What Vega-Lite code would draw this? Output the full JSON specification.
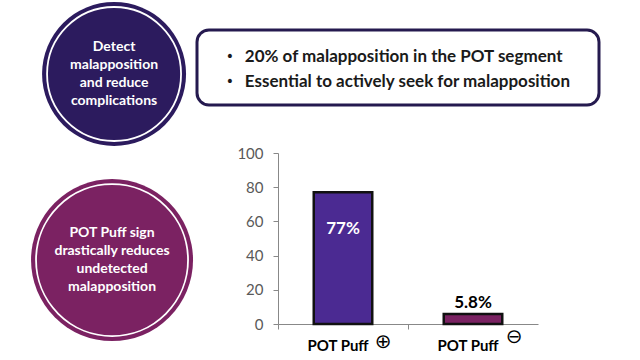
{
  "$schema": "https://vega.github.io/schema/vega-lite/v6.json",
  "background": "white",
  "padding": 0,
  "config": {"view": {"stroke": null}},
  "spacing": 0,
  "vconcat": [
    {
      "hconcat": [
        {
          "width": 197,
          "height": 135,
          "data": {"values": [{"text": "Detect\nmalapposition\nand reduce\ncomplications"}]},
          "encoding": {
            "x": {"datum": "c", "type": "nominal", "scale": {"type": "point", "padding": 0, "align": 0.579}, "axis": null},
            "y": {"datum": "c", "type": "nominal", "scale": {"type": "point", "padding": 0, "align": 0.548}, "axis": null}
          },
          "layer": [
            {"mark": {"type": "point", "shape": "circle", "filled": true, "size": 20736, "color": "#2c1b5e", "opacity": 1, "clip": false}},
            {"mark": {"type": "point", "shape": "circle", "filled": false, "size": 17956, "stroke": "white", "strokeWidth": 1.8, "opacity": 1, "clip": false}},
            {"mark": {"type": "text", "lineBreak": "\n", "lineHeight": 18, "font": "Lato", "fontWeight": "bold", "fontSize": 14, "color": "white", "align": "center", "baseline": "middle", "dy": -27, "clip": false}, "encoding": {"text": {"field": "text"}}}
          ]
        },
        {
          "width": 402,
          "height": 75,
          "view": {"fill": "white", "stroke": "#251a4f", "strokeWidth": 3, "cornerRadius": 12},
          "data": {"values": [
            {"line": 1, "text": "20% of malapposition in the POT segment"},
            {"line": 2, "text": "Essential to actively seek for malapposition"}
          ]},
          "encoding": {
            "x": {"datum": "start", "type": "nominal", "scale": {"type": "point", "padding": 0, "align": 0.119}, "axis": null},
            "y": {"field": "line", "type": "ordinal", "scale": {"type": "point", "padding": 1, "align": 0.54}, "axis": null}
          },
          "layer": [
            {"mark": {"type": "text", "text": "•", "font": "DejaVu Sans", "fontSize": 14, "color": "#1a1a1a", "align": "center", "baseline": "middle", "dx": -15}},
            {"mark": {"type": "text", "font": "Lato", "fontWeight": "bold", "fontSize": 17, "color": "#1a1a1a", "align": "left", "baseline": "middle"}, "encoding": {"text": {"field": "text"}}}
          ]
        }
      ],
      "bounds": "flush",
      "center": true,
      "spacing": 0
    },
    {
      "hconcat": [
        {
          "width": 278,
          "height": 171,
          "data": {"values": [{"text": "POT Puff sign\ndrastically reduces\nundetected\nmalapposition"}]},
          "encoding": {
            "x": {"datum": "c", "type": "nominal", "scale": {"type": "point", "padding": 0, "align": 0.403}, "axis": null},
            "y": {"datum": "c", "type": "nominal", "scale": {"type": "point", "padding": 0, "align": 0.626}, "axis": null}
          },
          "layer": [
            {"mark": {"type": "point", "shape": "circle", "filled": true, "size": 26244, "color": "#7b2262", "opacity": 1, "clip": false}},
            {"mark": {"type": "point", "shape": "circle", "filled": false, "size": 23104, "stroke": "white", "strokeWidth": 1.8, "opacity": 1, "clip": false}},
            {"mark": {"type": "text", "lineBreak": "\n", "lineHeight": 18, "font": "Lato", "fontWeight": "bold", "fontSize": 14, "color": "white", "align": "center", "baseline": "middle", "dy": -27, "clip": false}, "encoding": {"text": {"field": "text"}}}
          ]
        },
        {
          "width": 260,
          "height": 171,
          "data": {"values": [
            {"group": "POT Puff ⊕", "value": 77, "label": "77%", "sign": "⊕"},
            {"group": "POT Puff ⊖", "value": 5.8, "label": "5.8%", "sign": "⊖"}
          ]},
          "encoding": {
            "x": {
              "field": "group", "type": "nominal", "sort": null,
              "scale": {"type": "band", "paddingInner": 0.55, "paddingOuter": 0.275},
              "axis": {"title": null, "labelAngle": 0, "labelExpr": "substring(datum.label, 0, 8)", "bandPosition": -0.611, "labelOffset": -5,
                       "labelFont": "Lato", "labelFontWeight": "bold", "labelFontSize": 15, "labelColor": "black", "labelPadding": 9,
                       "tickSize": 5, "tickColor": "#888888", "domainColor": "#888888"}
            },
            "y": {
              "field": "value", "type": "quantitative",
              "scale": {"domain": [0, 100], "nice": false},
              "axis": {"title": null, "values": [0, 20, 40, 60, 80, 100], "grid": false, "labelFont": "Lato", "labelFontSize": 15,
                       "labelColor": "#595959", "tickSize": 5, "labelPadding": 10, "tickColor": "#888888", "domainColor": "#888888"}
            }
          },
          "layer": [
            {"mark": {"type": "bar", "stroke": "#111111", "strokeWidth": 2.5},
             "encoding": {"color": {"field": "group", "type": "nominal", "scale": {"domain": ["POT Puff ⊕", "POT Puff ⊖"], "range": ["#4b2a92", "#7a2262"]}, "legend": null}}},
            {"transform": [{"filter": "datum.value > 50"}],
             "mark": {"type": "text", "font": "Lato", "fontWeight": "bold", "fontSize": 17, "color": "white", "baseline": "middle", "dy": 37},
             "encoding": {"text": {"field": "label"}}},
            {"transform": [{"filter": "datum.value < 50"}],
             "mark": {"type": "text", "font": "Lato", "fontWeight": "bold", "fontSize": 17, "color": "black", "baseline": "alphabetic", "dy": -6},
             "encoding": {"text": {"field": "label"}}},
            {"transform": [{"filter": "datum.sign == '⊕'"}],
             "mark": {"type": "text", "font": "DejaVu Sans", "fontSize": 20, "color": "black", "baseline": "middle", "dx": 40, "dy": 18},
             "encoding": {"text": {"field": "sign"}, "y": {"datum": 0}}},
            {"transform": [{"filter": "datum.sign == '⊖'"}],
             "mark": {"type": "text", "font": "DejaVu Sans", "fontSize": 20, "color": "black", "baseline": "middle", "dx": 41, "dy": 13},
             "encoding": {"text": {"field": "sign"}, "y": {"datum": 0}}}
          ]
        }
      ],
      "bounds": "flush",
      "spacing": 0
    }
  ]
}
